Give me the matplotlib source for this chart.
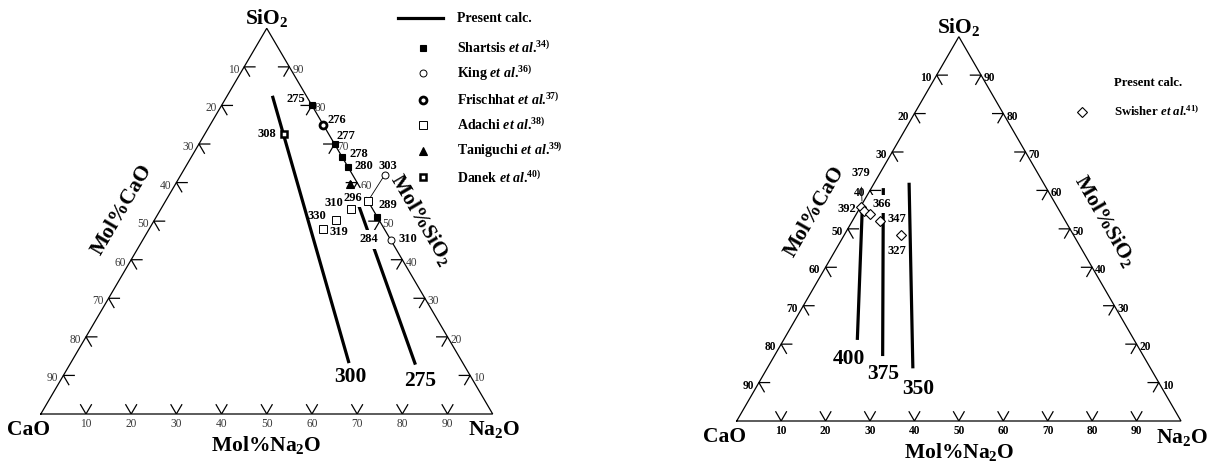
import matplotlib
matplotlib.use("Agg")
import matplotlib.pyplot as plt
from matplotlib.lines import Line2D
from matplotlib.transforms import offset_copy
import numpy as np

plt.rcParams["font.family"] = ["Liberation Serif", "DejaVu Serif"]
plt.rcParams["mathtext.fontset"] = "custom"
plt.rcParams["mathtext.rm"] = "Liberation Serif:bold"
plt.rcParams["mathtext.it"] = "Liberation Serif:italic:bold"
plt.rcParams["mathtext.bf"] = "Liberation Serif:bold"

# ---- data (mol% Na2O, mol% SiO2; CaO is the rest) ----
tick_values = [10, 20, 30, 40, 50, 60, 70, 80, 90]

# left diagram: iso-lines of the calculation
calc_300_na2o = [10.0, 61.6]
calc_300_sio2 = [82.5, 13.2]
calc_275_na2o = [38.3, 76.5]
calc_275_sio2 = [60.3, 12.8]

shartsis_na2o = [20.0, 30.0, 33.3, 36.0, 49.0]
shartsis_sio2 = [80.0, 70.0, 66.7, 64.0, 51.0]
king_na2o = [45.1, 55.0]
king_sio2 = [62.0, 45.0]
frischhat_na2o = [25.0]
frischhat_sio2 = [75.0]
adachi_na2o = [44.8, 42.2, 40.2, 38.4]
adachi_sio2 = [55.3, 53.1, 50.3, 47.9]
taniguchi_na2o = [38.6]
taniguchi_sio2 = [59.6]
danek_na2o = [17.6]
danek_sio2 = [72.5]

# point labels of the left diagram (text, x, y in triangle units)
left_labels = [("275", 56.5, 81.7), ("276", 65.6, 76.1), ("277", 67.6, 72.2),
               ("278", 70.4, 67.4), ("280", 71.4, 64.2), ("303", 76.9, 64.2),
               ("310", 64.8, 54.7), ("289", 76.9, 54.1), ("330", 61.2, 51.4),
               ("319", 66.0, 47.2), ("310", 81.3, 45.3), ("308", 50.1, 72.5)]
left_masked_labels = [("296", 69.0, 56.1), ("284", 72.6, 45.3)]
left_line_labels = [("300", 68.6, 9.5), ("275", 83.9, 8.6)]

# right diagram
calc_400_na2o = [0.8, 16.6]
calc_400_sio2 = [54.9, 21.1]
calc_375_na2o = [2.7, 24.4]
calc_375_sio2 = [60.6, 16.9]
calc_350_na2o = [7.8, 32.8]
calc_350_sio2 = [62.0, 13.7]

swisher_na2o = [0.2, 1.3, 3.1, 6.25, 12.7]
swisher_sio2 = [55.6, 54.7, 53.8, 52.1, 48.4]
right_labels = [("392", 24.8, 55.1), ("347", 36.1, 52.5), ("327", 36.1, 44.3)]
right_masked_labels = [("366", 32.6, 56.5)]
right_line_labels = [("400", 25.3, 16.1), ("375", 32.9, 12.2), ("350", 40.9, 8.3)]

FIG_W, FIG_H = 1213, 463


def cart(na2o, sio2):
    na2o = np.asarray(na2o, dtype=float)
    sio2 = np.asarray(sio2, dtype=float)
    return na2o + sio2 / 2.0, sio2


def make_axes(fig, x0, y_base, width, height):
    ax = fig.add_axes([x0 / FIG_W, (FIG_H - y_base) / FIG_H, width / FIG_W, height / FIG_H])
    ax.set_xlim(0, 100)
    ax.set_ylim(0, 100)
    ax.axis("off")
    return ax


def off(ax, dx, dy):
    return offset_copy(ax.transData, fig=ax.figure, x=dx, y=dy, units="dots")


def draw_frame(ax, tick_color, tick_weight):
    ax.plot([0, 100, 50, 0], [0, 0, 100, 0], color="black", lw=0.9,
            solid_joinstyle="miter", clip_on=False)
    L = 2.4
    tick_font = dict(fontsize=8.3, color=tick_color, fontweight=tick_weight, va="center")
    for v in tick_values:
        # bottom edge (Na2O)
        bx, by = cart(v, 0)
        ax.plot([bx - L / 2, bx, bx + L / 2], [by + L, by, by + L], color="black", lw=0.9)
        ax.text(bx, by, str(v), transform=off(ax, 0, -10), ha="center", **tick_font)
        # left edge (CaO)
        lx, ly = cart(0, 100 - v)
        ax.plot([lx + L, lx, lx + L / 2], [ly, ly, ly - L], color="black", lw=0.9)
        ax.text(lx, ly, str(v), transform=off(ax, -5, -3), ha="right", **tick_font)
        # right edge (SiO2)
        rx, ry = cart(100 - v, v)
        ax.plot([rx - L, rx, rx - L / 2], [ry, ry, ry - L], color="black", lw=0.9)
        ax.text(rx, ry, str(v), transform=off(ax, 3, -3), ha="left", **tick_font)

    big = dict(fontsize=15.5, fontweight="bold", ha="center", va="center")
    ax.text(50, 100, "SiO$_2$", transform=off(ax, 0, 10), **big)
    ax.text(0, 0, "CaO", transform=off(ax, -12, -16), **big)
    ax.text(100, 0, "Na$_2$O", transform=off(ax, 1, -16), **big)
    ax.text(50, 0, "Mol%Na$_2$O", transform=off(ax, 0, -31), **big)
    return big


def ref_label(name, num):
    return name + " $\\mathit{et\\ al.}^{\\!\\!\\mathrm{" + num + ")}}$"


fig = plt.figure(figsize=(FIG_W / 100, FIG_H / 100), dpi=100)
fig.patch.set_facecolor("white")

# ================= left diagram =================
axl = make_axes(fig, 40.8, 414.0, 451.9, 385.7)
big = draw_frame(axl, "#3a3a3a", "normal")
axl.text(17.9, 53.0, "Mol%CaO", rotation=59.6, rotation_mode="anchor", **big)
axl.text(84.3, 50.3, "Mol%SiO$_2$", rotation=-59.6, rotation_mode="anchor", **big)

for na, si in [(calc_300_na2o, calc_300_sio2), (calc_275_na2o, calc_275_sio2)]:
    x, y = cart(na, si)
    axl.plot(x, y, color="black", lw=2.3, solid_capstyle="butt", zorder=3)

# leader from the shifted King point to the binary composition
kx, ky = cart(king_na2o[0], king_sio2[0])
ax_, ay_ = cart(adachi_na2o[0], adachi_sio2[0])
axl.plot([kx, ax_], [ky, ay_], color="black", lw=0.6, zorder=3)

styles = {
    "shartsis": dict(marker="s", ms=5, mfc="black", mec="black", mew=0.8),
    "king": dict(marker="o", ms=5, mfc="white", mec="black", mew=0.7),
    "frischhat": dict(marker="o", ms=5, mfc="white", mec="black", mew=2.0),
    "adachi": dict(marker="s", ms=5.5, mfc="white", mec="black", mew=0.7),
    "taniguchi": dict(marker="^", ms=5.5, mfc="black", mec="black", mew=0.8),
    "danek": dict(marker="s", ms=5, mfc="white", mec="black", mew=1.8),
}
series = [("shartsis", shartsis_na2o, shartsis_sio2),
          ("king", king_na2o, king_sio2),
          ("frischhat", frischhat_na2o, frischhat_sio2),
          ("adachi", adachi_na2o, adachi_sio2),
          ("taniguchi", taniguchi_na2o, taniguchi_sio2),
          ("danek", danek_na2o, danek_sio2)]
for name, na, si in series:
    x, y = cart(na, si)
    axl.plot(x, y, ls="none", zorder=5, clip_on=False, **styles[name])

for t, x, y in left_labels:
    axl.text(x, y, t, fontsize=9, fontweight="bold", ha="center", va="center", zorder=6)
for t, x, y in left_masked_labels:
    axl.text(x, y, t, fontsize=9, fontweight="bold", ha="center", va="center", zorder=4,
             bbox=dict(boxstyle="square,pad=0.3", fc="white", ec="none"))
for t, x, y in left_line_labels:
    axl.text(x, y, t, fontsize=15.5, fontweight="bold", ha="center", va="center")


# legends are placed in figure pixels
def fx(px):
    return px / FIG_W


def fy(py):
    return 1 - py / FIG_H


fig.add_artist(Line2D([fx(398.3), fx(443.3)], [fy(18.3), fy(18.3)], color="black", lw=2.3,
                      transform=fig.transFigure))
fig.text(fx(456.7), fy(18.3), "Present calc.", fontsize=10, fontweight="bold", va="center")
legend_rows = [("shartsis", ref_label("Shartsis", "34"), 47.7),
               ("king", ref_label("King", "36"), 73.3),
               ("frischhat", ref_label("Frischhat", "37"), 100.0),
               ("adachi", ref_label("Adachi", "38"), 125.0),
               ("taniguchi", ref_label("Taniguchi", "39"), 150.7),
               ("danek", ref_label("Danek", "40"), 177.3)]
for name, label, py in legend_rows:
    fig.add_artist(Line2D([fx(423.3)], [fy(py)], ls="none", transform=fig.transFigure,
                          **styles[name]))
    fig.text(fx(456.7), fy(py), label, fontsize=10, fontweight="bold", va="center")

# ================= right diagram =================
axr = make_axes(fig, 736.7, 421.0, 444.3, 384.3)
big = draw_frame(axr, "black", "bold")
axr.text(17.5, 54.4, "Mol%CaO", rotation=60.0, rotation_mode="anchor", **big)
axr.text(82.9, 52.0, "Mol%SiO$_2$", rotation=-60.0, rotation_mode="anchor", **big)

for na, si in [(calc_400_na2o, calc_400_sio2), (calc_375_na2o, calc_375_sio2),
               (calc_350_na2o, calc_350_sio2)]:
    x, y = cart(na, si)
    axr.plot(x, y, color="black", lw=2.3, solid_capstyle="butt", zorder=3)

sx, sy = cart(swisher_na2o, swisher_sio2)
diamond = dict(marker="D", ms=5, mfc="white", mec="black", mew=0.8)
axr.plot(sx, sy, ls="none", zorder=5, **diamond)

axr.annotate("379", xy=(sx[0] + 0.2, sy[0] + 1.6), xytext=(27.9, 64.6), fontsize=9,
             fontweight="bold", ha="center", va="center",
             arrowprops=dict(arrowstyle="-", lw=0.6, shrinkA=4, shrinkB=0))
for t, x, y in right_labels:
    axr.text(x, y, t, fontsize=9, fontweight="bold", ha="center", va="center", zorder=6)
for t, x, y in right_masked_labels:
    axr.text(x, y, t, fontsize=9, fontweight="bold", ha="center", va="center", zorder=4,
             bbox=dict(boxstyle="square,pad=0.25", fc="white", ec="none"))
for t, x, y in right_line_labels:
    axr.text(x, y, t, fontsize=15.5, fontweight="bold", ha="center", va="center")

fig.text(fx(1114.3), fy(83.3), "Present calc.", fontsize=9.2, fontweight="bold", va="center")
fig.add_artist(Line2D([fx(1082.3)], [fy(111.7)], ls="none", transform=fig.transFigure,
                      **diamond))
fig.text(fx(1114.3), fy(111.7), ref_label("Swisher", "41"), fontsize=9.2,
         fontweight="bold", va="center")

fig.savefig("out.png", dpi=100)
